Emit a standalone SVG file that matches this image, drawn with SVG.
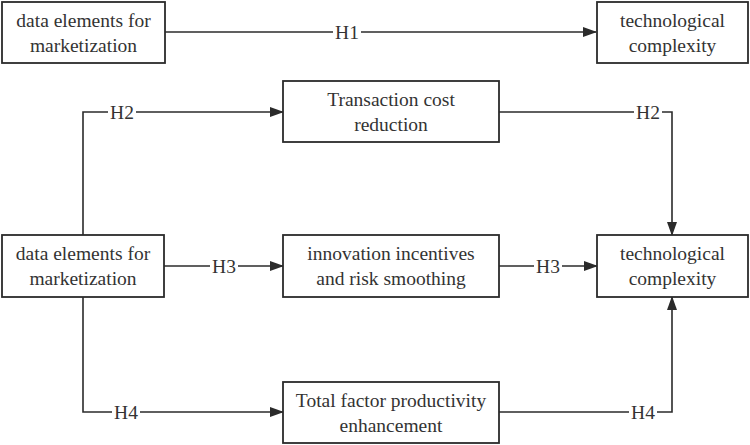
<svg xmlns="http://www.w3.org/2000/svg" width="750" height="445" viewBox="0 0 750 445">
<style>
.box{fill:#fff;stroke:#2b2b2b;stroke-width:1.8}
.t{font-family:"Liberation Serif","Times New Roman",serif;font-size:19.5px;fill:#333;text-anchor:middle}
.c{fill:none;stroke:#2b2b2b;stroke-width:1.6}
.lb{fill:#fff}
</style>
<defs>
<marker id="ah" markerWidth="14" markerHeight="10" refX="13" refY="5" orient="auto" markerUnits="userSpaceOnUse">
<path d="M0,0 L14,5 L0,10 Z" fill="#2b2b2b"/>
</marker>
</defs>
<rect width="750" height="445" fill="#fff"/>
<g id="connectors">
<path class="c" d="M165,32 H596" marker-end="url(#ah)"/>
<path class="c" d="M83,235 V112 H283" marker-end="url(#ah)"/>
<path class="c" d="M499,112 H672 V235" marker-end="url(#ah)"/>
<path class="c" d="M164,266 H283" marker-end="url(#ah)"/>
<path class="c" d="M499,266 H597" marker-end="url(#ah)"/>
<path class="c" d="M83,297 V412 H283" marker-end="url(#ah)"/>
<path class="c" d="M499,412 H672 V297" marker-end="url(#ah)"/>
<rect class="lb" x="333" y="22" width="28" height="20"/>
<text class="t" x="347" y="39">H1</text>
<rect class="lb" x="108" y="102" width="28" height="20"/>
<text class="t" x="122" y="119">H2</text>
<rect class="lb" x="634" y="102" width="28" height="20"/>
<text class="t" x="648" y="119">H2</text>
<rect class="lb" x="210" y="256" width="28" height="20"/>
<text class="t" x="224" y="273">H3</text>
<rect class="lb" x="534" y="256" width="28" height="20"/>
<text class="t" x="548" y="273">H3</text>
<rect class="lb" x="112" y="402" width="28" height="20"/>
<text class="t" x="126" y="419">H4</text>
<rect class="lb" x="629" y="402" width="28" height="20"/>
<text class="t" x="643" y="419">H4</text>
</g>
<g id="n1">
<rect class="box" x="2" y="2" width="163" height="61"/>
<text class="t" x="83.5" y="27">data elements for</text>
<text class="t" x="83.5" y="52">marketization</text>
</g>
<g id="n2">
<rect class="box" x="597" y="2" width="151" height="61"/>
<text class="t" x="672.5" y="27">technological</text>
<text class="t" x="672.5" y="52">complexity</text>
</g>
<g id="n3">
<rect class="box" x="283" y="81" width="216" height="61"/>
<text class="t" x="391" y="106">Transaction cost</text>
<text class="t" x="391" y="131">reduction</text>
</g>
<g id="n4">
<rect class="box" x="2" y="235" width="162" height="62"/>
<text class="t" x="83" y="260">data elements for</text>
<text class="t" x="83" y="285">marketization</text>
</g>
<g id="n5">
<rect class="box" x="283" y="235" width="216" height="62"/>
<text class="t" x="391" y="260">innovation incentives</text>
<text class="t" x="391" y="285">and risk smoothing</text>
</g>
<g id="n6">
<rect class="box" x="597" y="235" width="151" height="62"/>
<text class="t" x="672.5" y="260">technological</text>
<text class="t" x="672.5" y="285">complexity</text>
</g>
<g id="n7">
<rect class="box" x="283" y="382" width="216" height="61"/>
<text class="t" x="391" y="407">Total factor productivity</text>
<text class="t" x="391" y="432">enhancement</text>
</g>
</svg>
